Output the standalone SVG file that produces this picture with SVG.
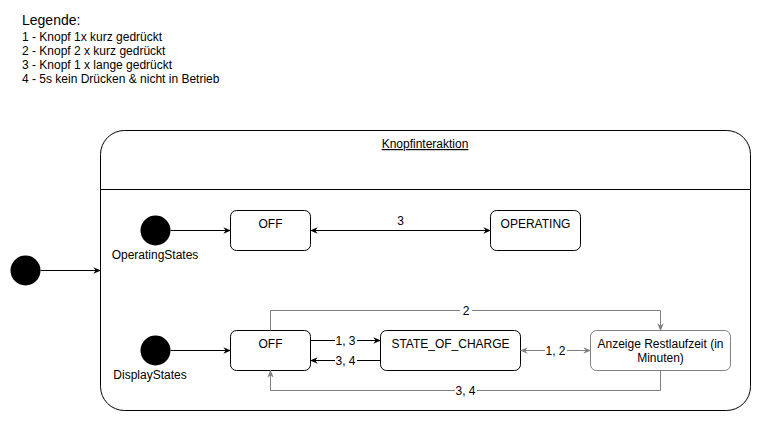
<svg xmlns="http://www.w3.org/2000/svg" width="761" height="421" viewBox="0 0 761 421">
<defs>
<marker id="ab" viewBox="0 0 10 10" refX="9" refY="5" markerWidth="8" markerHeight="8" markerUnits="userSpaceOnUse" orient="auto-start-reverse"><path d="M0,1 L10,5 L0,9 L3,5 Z" fill="#000"/></marker>
<marker id="ag" viewBox="0 0 10 10" refX="9" refY="5" markerWidth="8" markerHeight="8" markerUnits="userSpaceOnUse" orient="auto-start-reverse"><path d="M0,1 L10,5 L0,9 L3,5 Z" fill="#808080"/></marker>
</defs>
<style>
text{font-family:"Liberation Sans",Arial,sans-serif;font-size:12px;fill:#000}
.st{fill:#fff;stroke:#000;stroke-width:1}
.sg{fill:#fff;stroke:#808080;stroke-width:1}
.init{fill:#000}
.cb{fill:none;stroke:#000;stroke-width:1}
.cg{fill:none;stroke:#808080;stroke-width:1}
.lbl{fill:#fff}
.m{text-anchor:middle}
</style>
<rect width="761" height="421" fill="#fff"/>
<g id="legend">
<text x="22" y="25" style="font-size:14px">Legende:</text>
<text x="22" y="41">1 - Knopf 1x kurz gedrückt</text>
<text x="22" y="55">2 - Knopf 2 x kurz gedrückt</text>
<text x="22" y="69">3 - Knopf 1 x lange gedrückt</text>
<text x="22" y="83">4 - 5s kein Drücken &amp; nicht in Betrieb</text>
</g>
<g id="container">
<rect x="100.5" y="130.5" width="650" height="280" rx="24" ry="24" class="st"/>
<line x1="100.5" y1="189.5" x2="750.5" y2="189.5" stroke="#000"/>
<text x="425" y="148" class="m" text-decoration="underline">Knopfinteraktion</text>
</g>
<g id="start"><circle cx="25.5" cy="270.5" r="15" class="init"/></g>
<g id="opInit"><circle cx="155.5" cy="230.5" r="15" class="init"/><text x="155" y="259" class="m">OperatingStates</text></g>
<g id="opOff"><rect x="230.5" y="210.5" width="80" height="40" rx="6" class="st"/><text x="270.5" y="228" class="m">OFF</text></g>
<g id="operating"><rect x="490.5" y="210.5" width="90" height="40" rx="6" class="st"/><text x="535.5" y="228" class="m">OPERATING</text></g>
<g id="dispInit"><circle cx="155.5" cy="350.5" r="15" class="init"/><text x="150" y="379" class="m">DisplayStates</text></g>
<g id="dispOff"><rect x="230.5" y="330.5" width="80" height="40" rx="6" class="st"/><text x="270.5" y="348" class="m">OFF</text></g>
<g id="soc"><rect x="380.5" y="330.5" width="140" height="40" rx="6" class="st"/><text x="450.5" y="348" class="m">STATE_OF_CHARGE</text></g>
<g id="anzeige"><rect x="590.5" y="330.5" width="140" height="40" rx="6" class="sg"/><text x="660.5" y="348" class="m">Anzeige Restlaufzeit (in</text><text x="660.5" y="362" class="m">Minuten)</text></g>
<g id="connectors">
<line x1="40.5" y1="270.5" x2="100.5" y2="270.5" class="cb" marker-end="url(#ab)"/>
<line x1="170.5" y1="230.5" x2="230.5" y2="230.5" class="cb" marker-end="url(#ab)"/>
<line x1="310.5" y1="230.5" x2="490.5" y2="230.5" class="cb" marker-start="url(#ab)" marker-end="url(#ab)"/>
<text x="400.5" y="225" class="m">3</text>
<line x1="170.5" y1="350.5" x2="230.5" y2="350.5" class="cb" marker-end="url(#ab)"/>
<line x1="310.5" y1="340.5" x2="380.5" y2="340.5" class="cb" marker-end="url(#ab)"/>
<rect x="335" y="334" width="22" height="12" class="lbl"/>
<text x="345.5" y="344.5" class="m">1, 3</text>
<line x1="380.5" y1="360.5" x2="310.5" y2="360.5" class="cb" marker-end="url(#ab)"/>
<rect x="335" y="354" width="22" height="12" class="lbl"/>
<text x="345.5" y="364.5" class="m">3, 4</text>
<line x1="520.5" y1="350.5" x2="590.5" y2="350.5" class="cg" marker-start="url(#ag)" marker-end="url(#ag)"/>
<rect x="545" y="344" width="22" height="12" class="lbl"/>
<text x="555.5" y="354.5" class="m">1, 2</text>
<polyline points="270.5,330.5 270.5,310.5 660.5,310.5 660.5,330.5" class="cg" marker-end="url(#ag)"/>
<rect x="460" y="304" width="12" height="12" class="lbl"/>
<text x="466" y="314.5" class="m">2</text>
<polyline points="660.5,370.5 660.5,390.5 270.5,390.5 270.5,370.5" class="cg" marker-end="url(#ag)"/>
<rect x="455" y="384" width="22" height="12" class="lbl"/>
<text x="465.5" y="394.5" class="m">3, 4</text>
</g>
</svg>
